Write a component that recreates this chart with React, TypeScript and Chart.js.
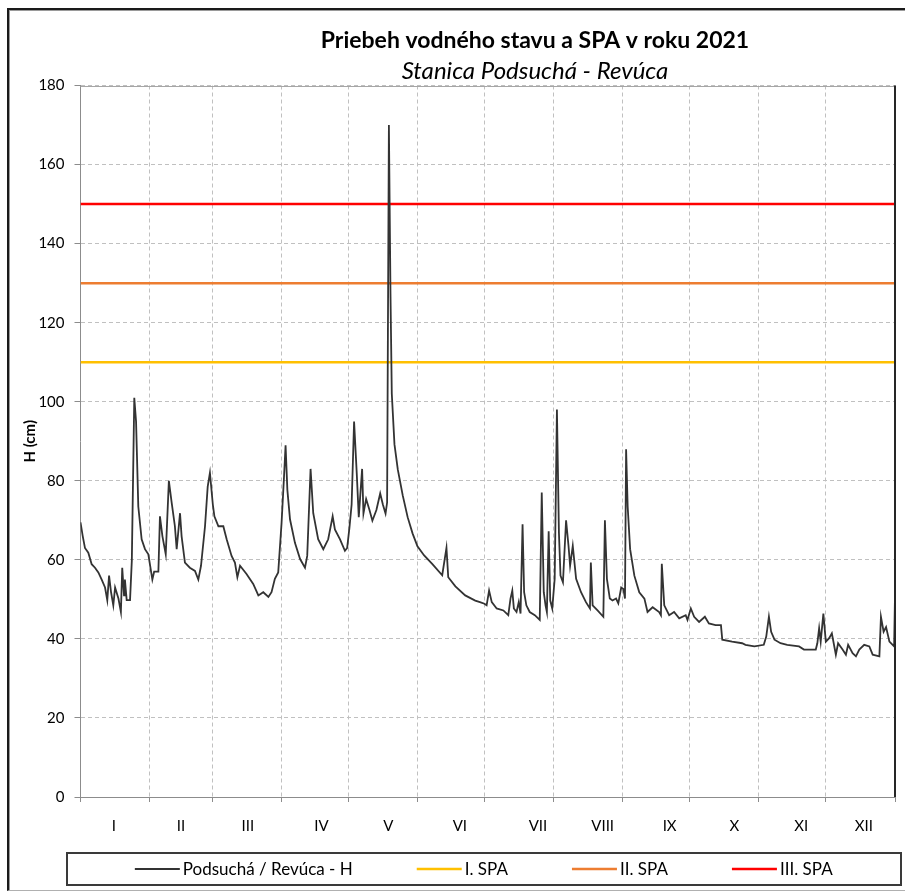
import { useEffect, useRef } from "react";
import { Chart, registerables } from "chart.js";

Chart.register(...registerables);

const TITLE = "Priebeh vodného stavu a SPA v roku 2021";
const SUBTITLE = "Stanica Podsuchá - Revúca";
const Y_TITLE = "H (cm)";
const FONT = "Lato, 'Noto Sans', sans-serif";

const monthLabels = ["I", "II", "III", "IV", "V", "VI", "VII", "VIII", "IX", "X", "XI", "XII"];
const monthStarts = [0, 31, 59, 90, 120, 151, 181, 212, 243, 273, 304, 334, 365];
const monthLabelDays = [15, 45, 75, 108, 138, 170, 205, 234, 264, 293, 323, 351];

const seriesLabel = "Podsuchá / Revúca - H";
const hDays = [
  0, 1, 2, 3.5, 5, 6.5, 8, 9.5, 11, 12, 12.8, 13.7, 14.7, 15.5, 17, 18.1, 18.7, 19.5, 19.9, 20.7,
  22.2, 23, 24.1, 24.9, 25.9, 27.4, 28.9, 30.4, 32.2, 33, 34.9, 35.6, 36.7, 38.2, 39.6, 40.9, 42.3, 43.1, 44.6, 45.3,
  46.8, 49, 51.3, 52.8, 54, 55.8, 57, 58, 59.3, 60, 61.8, 64, 65.5, 67.7, 69.2, 70.3, 71.5, 74.4, 77.4, 79.7,
  81.9, 84.2, 85.6, 87.1, 88.6, 90.1, 91.2, 91.9, 92.7, 93.9, 96.1, 98.4, 100.6, 101.6, 103.1, 104.3, 106.5, 108.8, 111, 113,
  114, 116.3, 118.5, 119.5, 120.5, 121.5, 122.6, 123.8, 124.7, 126.2, 126.8, 128, 129.5, 130.8, 132.6, 134.3, 135.5, 136.7, 137.4, 138.2,
  138.9, 139.5, 140.7, 142.2, 144.4, 146.6, 148.8, 151, 154, 157.7, 162.1, 164, 164.8, 168, 172.4, 176.9, 179, 181, 182, 183.1,
  184.3, 186.5, 189.5, 191.7, 192.7, 193.5, 194.2, 195.4, 196.4, 197.2, 198.1, 198.8, 199.8, 201.3, 203.6, 205.8, 206.7, 207.6, 208.4, 209,
  209.8, 210.5, 211.4, 212.5, 213.5, 214.4, 215.1, 216.2, 217.6, 218.7, 219.4, 220.6, 222.1, 224.3, 226.5, 228.3, 228.7, 229.5, 231.7, 234.3,
  235, 235.9, 237.2, 238.4, 240, 241, 242.3, 243.3, 244, 244.5, 245.2, 246.3, 248.2, 250.4, 252.7, 254.1, 256.4, 259.3, 260.1, 260.5,
  261.6, 263.8, 266, 268.3, 271.2, 272, 273.5, 275, 277.2, 279.8, 281.6, 284.6, 287, 287.6, 292, 296.5, 298, 302, 306.2, 307.3,
  308.5, 309.5, 311, 313.7, 316.7, 322, 324.2, 329.5, 330.2, 331, 331.7, 332.9, 334, 335.5, 336.7, 338.5, 339.5, 341.5, 343, 344,
  346, 347.5, 349, 351.2, 353.5, 355, 358, 358.7, 359.9, 361, 362.5, 364.6, 365
];
const hLevels = [
  69.5, 66, 63, 61.8, 58.9, 58, 56.8, 55, 53, 49.8, 56, 51.8, 48.5, 53, 50.2, 46.8, 58, 51, 55, 49.8,
  49.8, 59.8, 101, 95, 73.5, 65.2, 62.7, 61.4, 55, 57, 57, 71, 66, 61.4, 80, 74.3, 68.5, 62.7, 71.8, 66,
  59.3, 58, 57.2, 55, 58.5, 68.5, 78.5, 82, 74, 71, 68.5, 68.5, 65.2, 61, 59.3, 55.6, 58.5, 56.4, 53.9, 51,
  51.8, 50.6, 51.8, 55.2, 56.8, 69.3, 81, 89, 77.7, 70.2, 64.3, 60.2, 58, 61, 83, 71.8, 65.2, 62.7, 65.2, 71,
  67.7, 65.2, 62.3, 63, 68, 74, 95, 81.8, 70.8, 83, 71.7, 75.4, 72.6, 69.9, 72.6, 76.8, 74, 71.7, 74.5, 170,
  127.8, 102, 89.2, 82.8, 76.3, 70.8, 66.7, 63.4, 61.1, 58.9, 56.1, 63, 55.6, 53.3, 51, 49.7, 49.3, 48.9, 48.5, 52.2,
  49.3, 47.7, 47.2, 46, 50.2, 52.2, 47.7, 46.8, 49.3, 46.4, 69, 51.8, 48.5, 46.8, 46, 44.8, 77, 51.8, 48.5, 46.8,
  67.2, 49.7, 47.7, 55.2, 98, 66.8, 56, 54.3, 70, 63.5, 58.5, 63.5, 55.2, 51.8, 49.3, 47.7, 59.3, 48.5, 47.2, 45.6,
  70, 55.2, 50.2, 49.7, 50.2, 49, 53, 52.6, 50.2, 88, 73.5, 62.7, 56, 51.8, 50.2, 46.8, 48, 46.8, 46, 59,
  48.5, 46, 46.8, 45.2, 46, 44.8, 47.7, 45.6, 44.3, 45.6, 43.9, 43.5, 43.5, 39.8, 39.3, 38.9, 38.5, 38.1, 38.5, 40.6,
  45.6, 41.8, 39.8, 38.9, 38.5, 38.1, 37.3, 37.3, 38.9, 42.7, 39.3, 46.4, 39.3, 40.2, 41.4, 36, 38.9, 37.3, 36, 38.5,
  36.4, 35.6, 37.3, 38.5, 38.1, 36, 35.6, 45.6, 41.8, 43, 39.3, 38.1, 51
];

const spaLabels = ["I. SPA", "II. SPA", "III. SPA"];
const spaLevels = [110, 130, 150];
const SPA_COLORS = ["#FFC000", "#ED7D31", "#FF0000"];

const decorPlugin = {
  id: "decor",
  afterDraw(chart: any, _args: any, opts: any) {
    const { ctx, chartArea: a } = chart;
    ctx.save();
    // plot frame: top and right edges
    ctx.strokeStyle = "#a6a6a6";
    ctx.lineWidth = 1;
    ctx.beginPath();
    ctx.moveTo(a.left, Math.round(a.top) + 0.5);
    ctx.lineTo(a.right, Math.round(a.top) + 0.5);
    ctx.stroke();
    ctx.strokeStyle = "#262626";
    ctx.lineWidth = 2;
    ctx.beginPath();
    ctx.moveTo(a.right, a.top);
    ctx.lineTo(a.right, a.bottom);
    ctx.stroke();

    // titles
    ctx.fillStyle = "#000";
    ctx.textAlign = "center";
    ctx.textBaseline = "middle";
    ctx.font = `bold 23px ${FONT}`;
    ctx.fillText(TITLE, opts.titleX, opts.titleY);
    ctx.font = `italic 24px ${FONT}`;
    ctx.fillText(SUBTITLE, opts.titleX, opts.subtitleY);

    // legend
    ctx.font = `17px ${FONT}`;
    ctx.textAlign = "left";
    const items = chart.data.datasets.map((ds: any) => ({
      label: ds.label,
      color: ds.borderColor,
      width: ds.borderWidth,
    }));
    const sample = 45;
    const textGap = 3;
    const itemGap = 64;
    const widths = items.map((it: any) => sample + textGap + ctx.measureText(it.label).width);
    const total = widths.reduce((s: number, w: number) => s + w, 0) + itemGap * (items.length - 1);
    let x = (a.left + a.right) / 2 - total / 2 - 4;
    const y = opts.legendY;
    items.forEach((it: any, i: number) => {
      ctx.strokeStyle = it.color;
      ctx.lineWidth = Math.max(it.width, 2);
      ctx.beginPath();
      ctx.moveTo(x, y);
      ctx.lineTo(x + sample, y);
      ctx.stroke();
      ctx.fillStyle = "#000";
      ctx.fillText(it.label, x + sample + textGap, y + 1);
      x += widths[i] + itemGap;
    });
    ctx.strokeStyle = "#3a3a3a";
    ctx.lineWidth = 2;
    ctx.strokeRect(opts.boxLeft, opts.boxTop, opts.boxW, opts.boxH);
    ctx.restore();
  },
};

export default function App() {
  const canvasRef = useRef<HTMLCanvasElement | null>(null);

  useEffect(() => {
    if (!canvasRef.current) return;
    const hData = hDays.map((d, i) => ({ x: d, y: hLevels[i] }));
    const spaSets = spaLevels.map((lvl, i) => ({
      label: spaLabels[i],
      data: [
        { x: monthStarts[0], y: lvl },
        { x: monthStarts[monthStarts.length - 1], y: lvl },
      ],
      borderColor: SPA_COLORS[i],
      backgroundColor: SPA_COLORS[i],
      borderWidth: 2.5,
      pointRadius: 0,
    }));

    const chart = new Chart(canvasRef.current, {
      type: "line",
      data: {
        datasets: [
          {
            label: seriesLabel,
            data: hData,
            borderColor: "#333333",
            backgroundColor: "#333333",
            borderWidth: 1.8,
            pointRadius: 0,
            tension: 0,
          },
          ...spaSets,
        ],
      },
      plugins: [decorPlugin],
      options: {
        animation: false,
        responsive: false,
        devicePixelRatio: 1,
        events: [],
        layout: { padding: { top: 75.5, right: 10, bottom: 42, left: 0 } },
        plugins: {
          legend: { display: false },
          tooltip: { enabled: false },
          title: { display: false },
          decor: {
            titleX: 526,
            titleY: 31,
            subtitleY: 61,
            legendY: 859,
            boxLeft: 58,
            boxTop: 843,
            boxW: 834,
            boxH: 32,
          },
        } as any,
        scales: {
          x: {
            type: "linear",
            position: "bottom",
            min: monthStarts[0],
            max: monthStarts[monthStarts.length - 1],
            weight: 0,
            afterBuildTicks: (scale: any) => {
              scale.ticks = monthStarts.map((v) => ({ value: v }));
            },
            afterFit: (scale: any) => {
              scale.height = 6;
            },
            ticks: { display: false },
            grid: {
              color: "#c0c0c0",
              tickColor: "#8c8c8c",
              tickLength: 5,
              drawTicks: true,
            },
            border: { display: true, color: "#8c8c8c", dash: [4, 3] },
          },
          xm: {
            type: "linear",
            position: "bottom",
            min: monthStarts[0],
            max: monthStarts[monthStarts.length - 1],
            weight: 1,
            afterBuildTicks: (scale: any) => {
              scale.ticks = monthLabelDays.map((v) => ({ value: v }));
            },
            afterFit: (scale: any) => {
              scale.height = 45;
            },
            ticks: {
              autoSkip: false,
              maxRotation: 0,
              padding: 6,
              color: "#000",
              font: { family: FONT, size: 15 },
              callback: (_v: any, i: number) => monthLabels[i],
            },
            grid: { display: false },
            border: { display: false },
          },
          y: {
            type: "linear",
            min: 0,
            max: 180,
            afterFit: (scale: any) => {
              scale.width = 71.5;
            },
            ticks: {
              stepSize: 20,
              padding: 10,
              color: "#000",
              font: { family: FONT, size: 15 },
            },
            grid: {
              color: "#c0c0c0",
              tickColor: "#8c8c8c",
              tickLength: 6,
            },
            border: { display: true, color: "#8c8c8c", dash: [4, 3] },
            title: {
              display: true,
              text: Y_TITLE,
              color: "#000",
              padding: { top: 12, bottom: 0 },
              font: { family: FONT, size: 15, weight: "bold" },
            },
          },
        },
      },
    } as any);

    return () => chart.destroy();
  }, []);

  return (
    <div
      style={{
        position: "absolute",
        left: 7,
        top: 8,
        width: 898,
        height: 883,
        boxSizing: "border-box",
        borderTop: "2px solid #1a1a1a",
        borderLeft: "2px solid #1a1a1a",
        borderBottom: "1px solid #b0b0b0",
        boxShadow: "inset 1px 1px 0 #9a9a9a",
        background: "#fff",
        overflow: "hidden",
      }}
    >
      <canvas ref={canvasRef} width={896} height={880} style={{ display: "block" }} />
    </div>
  );
}
